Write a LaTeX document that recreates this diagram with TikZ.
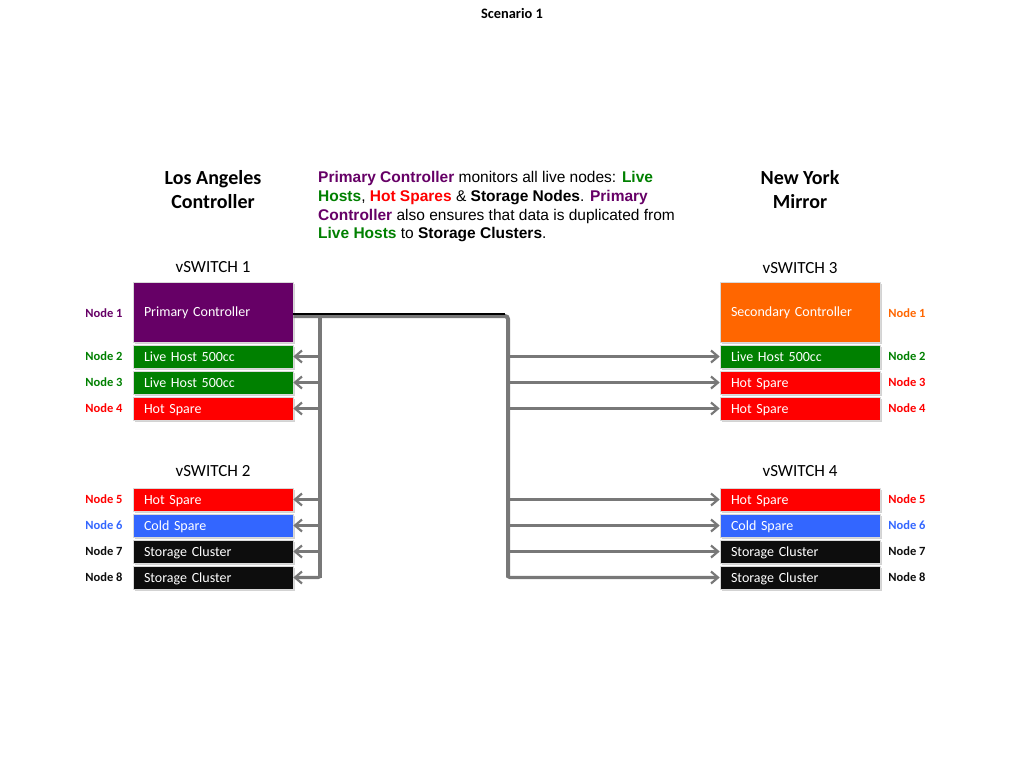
\documentclass[tikz,border=0pt]{standalone}
\usepackage{fontspec}
\setmainfont{Carlito}
\newfontfamily\arialfont{Liberation Sans}
\usetikzlibrary{arrows.meta,shadows}
\definecolor{cpurple}{RGB}{102,0,102}
\definecolor{cgreen}{RGB}{0,128,0}
\definecolor{cred}{RGB}{255,0,0}
\definecolor{cblue}{RGB}{51,102,255}
\definecolor{cblack}{RGB}{13,13,13}
\definecolor{corange}{RGB}{255,102,0}
\definecolor{cline}{RGB}{120,120,120}
\tikzset{
  box/.style={draw=white!85!black, line width=0.6pt, minimum width=160pt, minimum height=23pt, inner sep=0pt,
    text=white, font=\fontsize{14}{16}\selectfont, align=left, text width=138pt,
    text height=9.5pt, text depth=0.5pt,
    drop shadow={shadow xshift=1.5pt, shadow yshift=-1.5pt, opacity=0.35}},
  bigbox/.style={box, minimum height=60pt},
  nlabel/.style={font=\bfseries\fontsize{12.5}{14}\selectfont, inner sep=0pt},
  head/.style={font=\bfseries\fontsize{20}{24}\selectfont, align=center, inner sep=0pt},
  sw/.style={font=\fontsize{17}{19}\selectfont, inner sep=0pt},
  bus/.style={draw=cline, line width=4pt},
  arr/.style={draw=cline, line width=3.2pt, -{Straight Barb[length=7pt,width=12pt,line width=2.2pt]}},
}
\begin{document}
\begin{tikzpicture}[x=1pt,y=-1pt]
\useasboundingbox (0,0) rectangle (1024,768);
% title
\node[font=\bfseries\fontsize{14.4}{16}\selectfont, inner sep=0pt] (title) at (512,14) {Scenario 1};
% headings
\node[head] (la) at (213,190) {Los Angeles\\Controller};
\node[head] (ny) at (800,190) {New York\\Mirror};
\node[anchor=north west, inner sep=0pt, align=left, font=\arialfont\fontsize{15.5}{18.8}\selectfont] (para) at (318,171)
 {\textbf{\color{cpurple}Primary Controller} monitors all live nodes: \textbf{\color{cgreen}Live}\\
  \textbf{\color{cgreen}Hosts}, \textbf{\color{cred}Hot Spares} \& \textbf{Storage Nodes}. \textbf{\color{cpurple}Primary}\\
  \textbf{\color{cpurple}Controller} also ensures that data is duplicated from\\
  \textbf{\color{cgreen}Live Hosts} to \textbf{Storage Clusters}.};
\node[sw] (sw1) at (213,267) {vSWITCH 1};
\node[sw] (sw2) at (213,471) {vSWITCH 2};
\node[sw] (sw3) at (800,268) {vSWITCH 3};
\node[sw] (sw4) at (800,471) {vSWITCH 4};
% left boxes
\node[bigbox, fill=cpurple] (l1) at (213,312) {Primary Controller};
\node[box, fill=cgreen] (l2) at (213,356.5) {Live Host 500cc};
\node[box, fill=cgreen] (l3) at (213,382.5) {Live Host 500cc};
\node[box, fill=cred] (l4) at (213,408.5) {Hot Spare};
\node[box, fill=cred] (l5) at (213,499.5) {Hot Spare};
\node[box, fill=cblue] (l6) at (213,525.5) {Cold Spare};
\node[box, fill=cblack] (l7) at (213,551.5) {Storage Cluster};
\node[box, fill=cblack] (l8) at (213,577.5) {Storage Cluster};
% right boxes
\node[bigbox, fill=corange] (r1) at (800,312) {Secondary Controller};
\node[box, fill=cgreen] (r2) at (800,356.5) {Live Host 500cc};
\node[box, fill=cred] (r3) at (800,382.5) {Hot Spare};
\node[box, fill=cred] (r4) at (800,408.5) {Hot Spare};
\node[box, fill=cred] (r5) at (800,499.5) {Hot Spare};
\node[box, fill=cblue] (r6) at (800,525.5) {Cold Spare};
\node[box, fill=cblack] (r7) at (800,551.5) {Storage Cluster};
\node[box, fill=cblack] (r8) at (800,577.5) {Storage Cluster};
% left labels
\node[nlabel, text=cpurple] (ln1) at (104,313) {Node 1};
\node[nlabel, text=cgreen] (ln2) at (104,356) {Node 2};
\node[nlabel, text=cgreen] (ln3) at (104,382) {Node 3};
\node[nlabel, text=cred] (ln4) at (104,408) {Node 4};
\node[nlabel, text=cred] (ln5) at (104,499) {Node 5};
\node[nlabel, text=cblue] (ln6) at (104,525) {Node 6};
\node[nlabel, text=cblack] (ln7) at (104,551) {Node 7};
\node[nlabel, text=cblack] (ln8) at (104,577) {Node 8};
% right labels
\node[nlabel, text=corange] (rn1) at (907,313) {Node 1};
\node[nlabel, text=cgreen] (rn2) at (907,356) {Node 2};
\node[nlabel, text=cred] (rn3) at (907,382) {Node 3};
\node[nlabel, text=cred] (rn4) at (907,408) {Node 4};
\node[nlabel, text=cred] (rn5) at (907,499) {Node 5};
\node[nlabel, text=cblue] (rn6) at (907,525) {Node 6};
\node[nlabel, text=cblack] (rn7) at (907,551) {Node 7};
\node[nlabel, text=cblack] (rn8) at (907,577) {Node 8};
% bus
\coordinate (lb) at (320,316);
\coordinate (rb) at (508,316);
\coordinate (lbend) at (320,577.5);
\coordinate (rbend) at (508,577.5);
\draw[bus] (lb) -- (lbend);
\draw[bus, rounded corners=3pt] (l1.east |- lb) -- (rb) -- (rbend);
\draw[draw=black, line width=2pt] (l1.east |- 0,314) -- (505,314);
% arrows left
\foreach \n in {l2,l3,l4,l5,l6,l7} {\draw[arr] (lb |- \n.east) -- (\n.east);}
\draw[arr, rounded corners=2pt] (320,570) -- (lbend) -- (l8.east);
% arrows right
\foreach \n in {r2,r3,r4,r5,r6,r7} {\draw[arr] (rb |- \n.west) -- (\n.west);}
\draw[arr, rounded corners=2pt] (508,570) -- (rbend) -- (r8.west);
\end{tikzpicture}
\end{document}
